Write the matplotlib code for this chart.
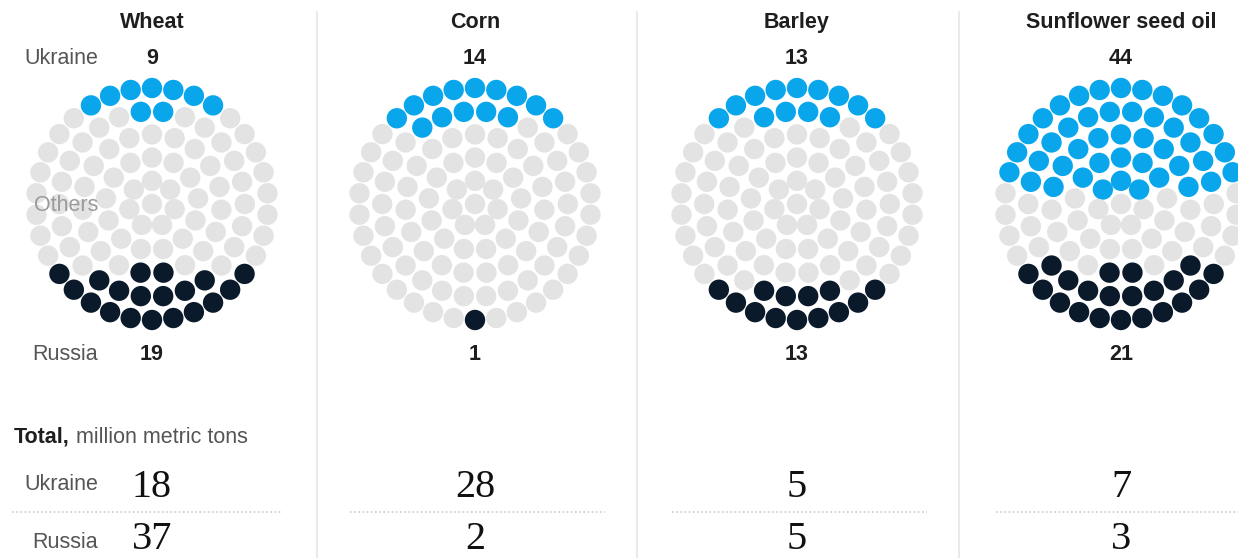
import numpy as np
import matplotlib
matplotlib.use("Agg")
import matplotlib.pyplot as plt

# share of world exports (out of 100 dots)
crops = ["Wheat", "Corn", "Barley", "Sunflower seed oil"]
ukraine_share = [9, 14, 13, 44]
russia_share = [19, 1, 13, 21]
# totals, million metric tons
ukraine_total = [18, 28, 5, 7]
russia_total = [37, 2, 5, 3]

BLUE = "#0aa6ec"
DARK = "#0b1a2a"
GREY = "#e3e3e3"
TEXT = "#1e1e1e"
LABEL = "#555555"

W, H = 1238, 558
centers = [152, 475, 797, 1121]
cy = 204
step = 23.2


def ring_layout():
    # concentric rings, 100 dots in total
    counts = [1, 7, 13, 19, 26, 34]
    xs, ys = [], []
    for k, n in enumerate(counts):
        if k == 0:
            xs.append(0.0)
            ys.append(0.0)
            continue
        off = 0.5 if (n % 2 == 0 and k != 5) else 0.0
        ang = np.pi / 2 + 2 * np.pi * (np.arange(n) + off) / n
        xs.extend(k * np.cos(ang))
        ys.extend(k * np.sin(ang))
    return np.array(xs), np.array(ys)


dx, dy = ring_layout()
order = np.lexsort((np.abs(dx), -np.round(dy, 6)))  # top first

fig = plt.figure(figsize=(W / 100, H / 100), dpi=100)
ax = fig.add_axes([0, 0, 1, 1])
ax.set_xlim(0, W)
ax.set_ylim(H, 0)
ax.axis("off")

sans = "Liberation Sans"
serif = "Liberation Serif"
fs = 15.5

for sep in [317, 637, 959]:
    ax.plot([sep, sep], [12, H], color="#e6e6e6", lw=1.2)

for i, crop in enumerate(crops):
    cx = centers[i]
    colors = np.array([GREY] * 100, dtype=object)
    colors[order[:ukraine_share[i]]] = BLUE
    if russia_share[i] > 0:
        colors[order[::-1][:russia_share[i]]] = DARK
    ax.scatter(cx + dx * step, cy - dy * step, s=215, c=list(colors),
               linewidths=0, zorder=3)

    ax.text(cx, 28, crop, ha="center", va="baseline", fontsize=fs,
            fontweight="bold", color=TEXT, family=sans)
    ax.text(cx, 64, str(ukraine_share[i]), ha="center", va="baseline",
            fontsize=fs, fontweight="bold", color=TEXT, family=sans)
    ax.text(cx, 360, str(russia_share[i]), ha="center", va="baseline",
            fontsize=fs, fontweight="bold", color=TEXT, family=sans)

    ax.text(cx, 497, str(ukraine_total[i]), ha="center", va="baseline",
            fontsize=29, color="#111111", family=serif)
    ax.text(cx, 549, str(russia_total[i]), ha="center", va="baseline",
            fontsize=29, color="#111111", family=serif)

    x0 = cx - 140 if i == 0 else cx - 125
    x1 = min(cx + 130, W)
    ax.plot([x0, x1], [512, 512], color="#cccccc", lw=1.2,
            ls=(0, (1, 1.5)))

ax.text(98, 64, "Ukraine", ha="right", va="baseline", fontsize=fs,
        color=LABEL, family=sans)
ax.text(98, 211, "Others", ha="right", va="baseline", fontsize=fs,
        color="#9a9a9a", family=sans, zorder=4)
ax.text(98, 360, "Russia", ha="right", va="baseline", fontsize=fs,
        color=LABEL, family=sans)

ax.text(14, 443, "Total,", ha="left", va="baseline", fontsize=fs,
        fontweight="bold", color=TEXT, family=sans)
ax.text(76, 443, "million metric tons", ha="left", va="baseline",
        fontsize=fs, color=LABEL, family=sans)
ax.text(98, 490, "Ukraine", ha="right", va="baseline", fontsize=fs,
        color=LABEL, family=sans)
ax.text(98, 548, "Russia", ha="right", va="baseline", fontsize=fs,
        color=LABEL, family=sans)

fig.savefig("out.png", dpi=100, facecolor="white")
